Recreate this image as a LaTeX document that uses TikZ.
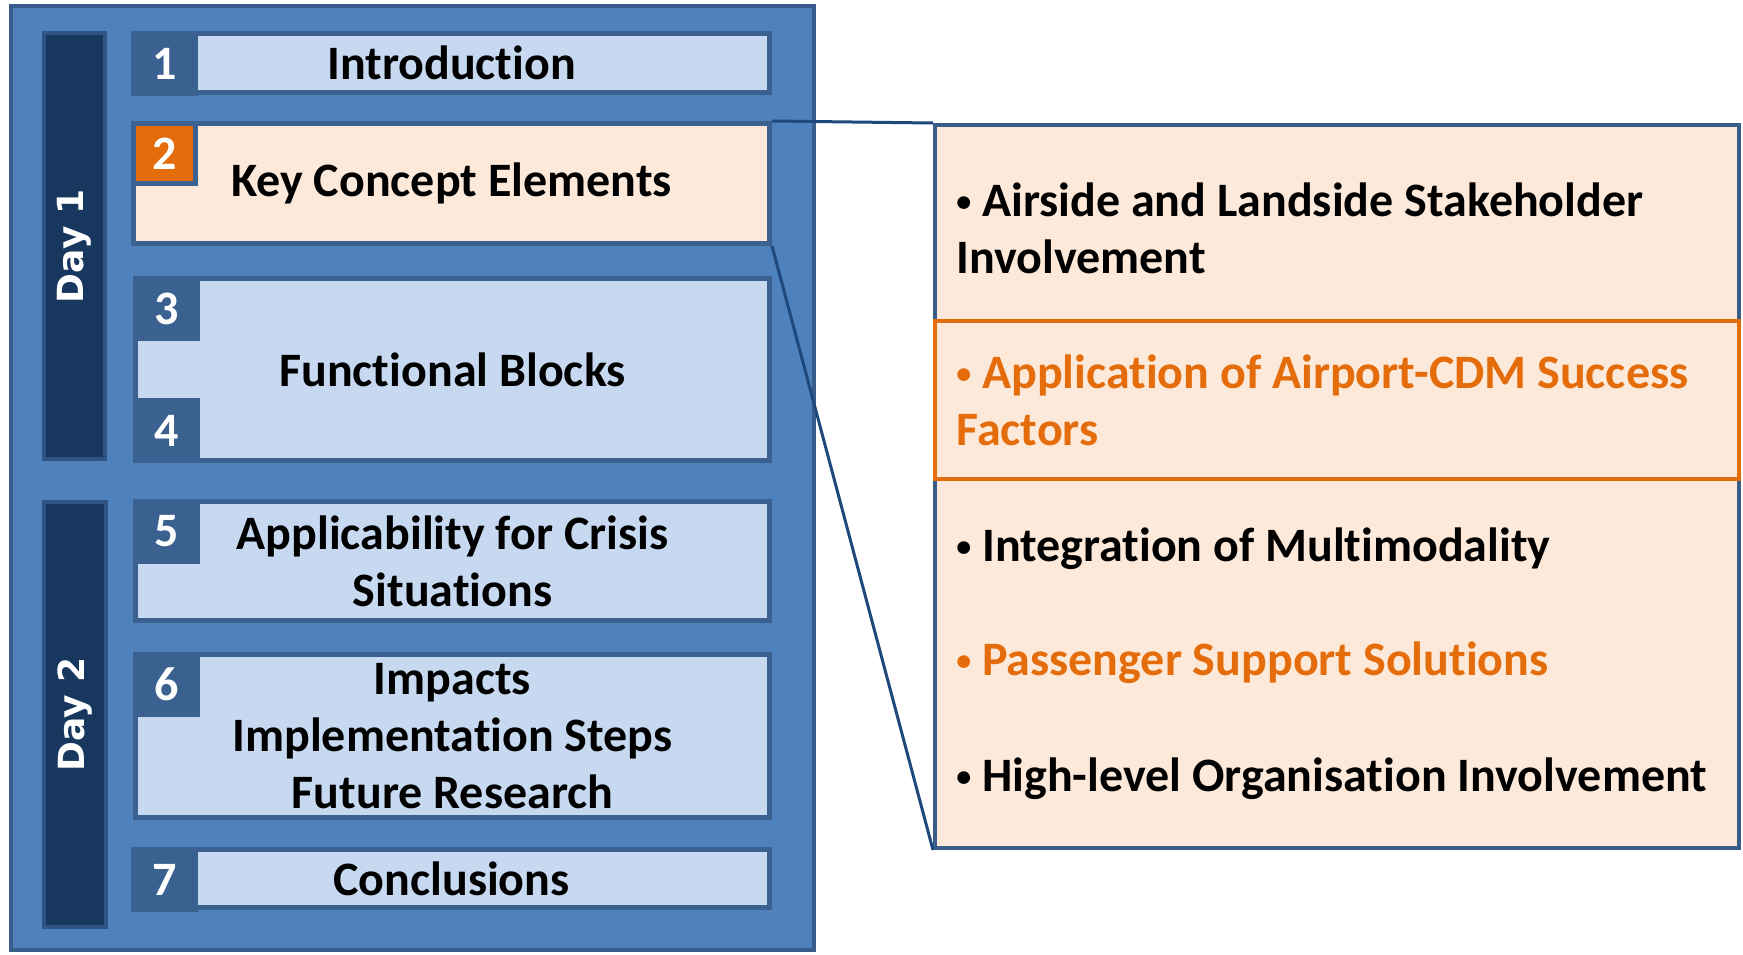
\documentclass[tikz,border=0pt]{standalone}
\usepackage{fontspec}
\setmainfont{Carlito}[Ligatures=NoCommon]
\newfontfamily\dayfont{DejaVu Sans}
\usetikzlibrary{positioning,fit}

\definecolor{panelblue}{HTML}{4F81BD}
\definecolor{paneledge}{HTML}{385D8A}
\definecolor{dayedge}{HTML}{2F5383}
\definecolor{daynavy}{HTML}{17375E}
\definecolor{lightblue}{HTML}{C6D9F1}
\definecolor{peach}{HTML}{FDE9D9}
\definecolor{tabblue}{HTML}{3A6190}
\definecolor{accent}{HTML}{E46C0A}
\definecolor{linkblue}{HTML}{1F497D}

\newcommand{\itembullet}{\raisebox{2.5pt}{\fontsize{15}{15}\selectfont•}\ }

\begin{document}
\begin{tikzpicture}
  [x=0.5pt,y=-0.5pt,
   every node/.style={font=\bfseries\fontsize{24}{28.5}\selectfont},
   dims/.style 2 args={minimum width=#1,minimum height=#2},
   panel/.style={rectangle,draw=paneledge,fill=panelblue,line width=2pt,inner sep=0pt},
   day/.style={rectangle,draw=dayedge,fill=daynavy,line width=2pt,inner sep=0pt},
   day text/.style={rotate=90,text=white,font=\dayfont\bfseries\fontsize{18}{20}\selectfont},
   topic/.style={rectangle,draw=tabblue,fill=lightblue,line width=2.5pt,inner sep=0pt,align=center},
   key topic/.style={topic,fill=peach},
   tab/.style={rectangle,draw=tabblue,fill=tabblue,line width=2.5pt,text=white,
     minimum width=31pt,minimum height=30pt,inner sep=0pt},
   key tab/.style={tab,fill=accent},
   detail/.style={rectangle,draw=paneledge,fill=peach,line width=2pt,inner sep=0pt},
   key detail/.style={rectangle,draw=accent,line width=2pt,inner sep=0pt},
   item/.style={anchor=west,align=left,inner sep=0pt},
   key item/.style={item,text=accent},
   link/.style={draw=linkblue,line width=1.5pt}]

  \useasboundingbox (0,0) rectangle (1743,954);

  % Agenda panel
  \node [panel,fit={(11,6) (814,950)}] (agenda) {};

  \node [day,fit={(44,33) (105,459)}]  (day1) {};
  \node [day text] (day1 text) at (day1.center) {Day 1};
  \node [day,fit={(44,502) (106,927)}] (day2) {};
  \node [day text] (day2 text) at (day2.center) {Day 2};

  \node [topic,dims={318pt}{29.5pt}]   (intro)   at (451.5,63)    {Introduction};
  \node [key topic,dims={318pt}{60pt}] (kce)     at (451.5,183.5) {Key Concept Elements};
  \node [topic,dims={317pt}{91pt}]     (blocks)  at (452.5,369.5) {Functional Blocks};
  \node [topic,dims={317pt}{59.5pt}]   (crisis)  at (452.5,561)   {Applicability for Crisis\\Situations};
  \node [topic,dims={317pt}{81.5pt}]   (impacts) at (452.5,736)   {Impacts\\Implementation Steps\\Future Research};
  \node [topic,dims={318pt}{29pt}]     (concl)   at (451.5,878.5) {Conclusions};

  \node [tab,anchor=north west]     (n1) at (intro.north west)   {1};
  \node [key tab,anchor=north west] (n2) at (kce.north west)     {2};
  \node [tab,anchor=north west]     (n3) at (blocks.north west)  {3};
  \node [tab,anchor=south west]     (n4) at (blocks.south west)  {4};
  \node [tab,anchor=north west]     (n5) at (crisis.north west)  {5};
  \node [tab,anchor=north west]     (n6) at (impacts.north west) {6};
  \node [tab,anchor=north west]     (n7) at (concl.north west)   {7};

  % Zoomed detail of topic 2
  \node [detail,fit={(935,125) (1739,848)}]    (zoom) {};
  \node [key detail,fit={(935,321) (1739,479)}] (focus) {};

  \node [item]     (stake)  at (956,228) {\itembullet Airside and Landside Stakeholder\\Involvement};
  \node [key item] (cdm)    at (956,400) {\itembullet Application of Airport-CDM Success\\Factors};
  \node [item]     (multi)  at (956,549) {\itembullet Integration of Multimodality};
  \node [key item] (pax)    at (956,663) {\itembullet Passenger Support Solutions};
  \node [item]     (org)    at (956,779) {\itembullet High-level Organisation Involvement};

  \draw [link] (kce.north east) -- (zoom.north west);
  \draw [link] (kce.south east) -- (zoom.south west);

\end{tikzpicture}
\end{document}
